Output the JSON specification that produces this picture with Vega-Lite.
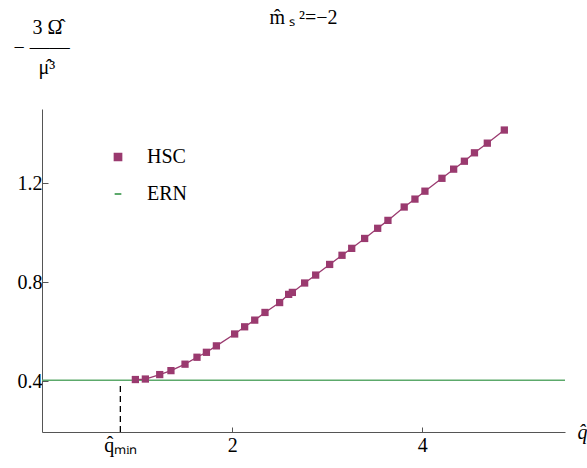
{
  "$schema": "https://vega.github.io/schema/vega-lite/v6.json",
  "width": 523,
  "height": 323,
  "autosize": {"type": "none"},
  "padding": {"left": 42, "top": 109, "right": 22, "bottom": 36},
  "background": "white",
  "title": {
    "text": "m̂\u2009ₛ\u2009²=−2",
    "font": "Liberation Serif",
    "fontSize": 20,
    "fontWeight": "normal",
    "color": "black",
    "anchor": "middle",
    "frame": "group",
    "offset": -11
  },
  "config": {
    "view": {"stroke": null},
    "font": "Liberation Serif",
    "axis": {
      "grid": false,
      "domainColor": "#555555",
      "domainWidth": 1,
      "tickColor": "#555555",
      "tickWidth": 1,
      "labelFont": "Liberation Serif",
      "labelFontSize": 20,
      "labelColor": "black",
      "titleFont": "Liberation Serif",
      "titleFontWeight": "normal",
      "titleColor": "black",
      "titleFontSize": 20
    }
  },
  "datasets": {
    "hsc": [
      {"q": 0.982, "omega": 0.407},
      {"q": 1.087, "omega": 0.409},
      {"q": 1.238, "omega": 0.427},
      {"q": 1.356, "omega": 0.443},
      {"q": 1.504, "omega": 0.469},
      {"q": 1.630, "omega": 0.497},
      {"q": 1.729, "omega": 0.517},
      {"q": 1.834, "omega": 0.543},
      {"q": 2.026, "omega": 0.591},
      {"q": 2.131, "omega": 0.620},
      {"q": 2.237, "omega": 0.647},
      {"q": 2.345, "omega": 0.678},
      {"q": 2.499, "omega": 0.718},
      {"q": 2.594, "omega": 0.751},
      {"q": 2.633, "omega": 0.759},
      {"q": 2.762, "omega": 0.797},
      {"q": 2.878, "omega": 0.829},
      {"q": 3.025, "omega": 0.872},
      {"q": 3.155, "omega": 0.909},
      {"q": 3.257, "omega": 0.937},
      {"q": 3.393, "omega": 0.977},
      {"q": 3.530, "omega": 1.018},
      {"q": 3.638, "omega": 1.050},
      {"q": 3.809, "omega": 1.104},
      {"q": 3.922, "omega": 1.136},
      {"q": 4.027, "omega": 1.168},
      {"q": 4.206, "omega": 1.220},
      {"q": 4.329, "omega": 1.257},
      {"q": 4.442, "omega": 1.289},
      {"q": 4.548, "omega": 1.323},
      {"q": 4.683, "omega": 1.362},
      {"q": 4.862, "omega": 1.415}
    ],
    "ern": [
      {"q": 0, "omega": 0.404},
      {"q": 5.5, "omega": 0.404}
    ],
    "qmin": [
      {"q": 0.824, "lo": 0.195, "hi": 0.39}
    ]
  },
  "layer": [
    {
      "data": {"name": "ern"},
      "mark": {"type": "line", "color": "#5ca96b", "strokeWidth": 1.6},
      "encoding": {
        "x": {
          "field": "q",
          "type": "quantitative",
          "scale": {"domain": [0, 5.5], "nice": false, "zero": false},
          "axis": {
            "values": [0.824, 2, 4],
            "labelExpr": "datum.value < 1 ? 'q̂ₘᵢₙ' : format(datum.value, 'd')",
            "tickSize": -5,
            "tickOpacity": {"condition": {"test": "datum.value < 1", "value": 0}, "value": 1},
            "labelPadding": 8,
            "title": "q̂",
            "titleFontStyle": "italic",
            "titleAlign": "left",
            "titleBaseline": "alphabetic",
            "titleAnchor": "start",
            "titleX": 535,
            "titleY": 6
          }
        },
        "y": {
          "field": "omega",
          "type": "quantitative",
          "scale": {"domain": [0.195, 1.5], "nice": false, "zero": false},
          "axis": {
            "values": [0.4, 0.8, 1.2],
            "labelExpr": "format(datum.value, '.1f')",
            "tickSize": -6,
            "labelPadding": 6,
            "title": ["\u200b\u00a0\u00a0\u00a0\u20093 Ω̂", "−\u00a0——", "\u200b\u00a0\u00a0\u00a0\u00a0\u00a0μ̂³"],
            "titleAngle": 0,
            "titleAlign": "left",
            "titleBaseline": "alphabetic",
            "titleAnchor": "start",
            "titleLineHeight": 20,
            "titleX": -29,
            "titleY": -76
          }
        }
      }
    },
    {
      "data": {"name": "qmin"},
      "mark": {"type": "rule", "color": "black", "strokeWidth": 1.3, "strokeDash": [6, 4]},
      "encoding": {
        "x": {"field": "q", "type": "quantitative"},
        "y": {"field": "lo", "type": "quantitative"},
        "y2": {"field": "hi"}
      }
    },
    {
      "data": {"name": "hsc"},
      "mark": {"type": "line", "color": "#9a3a6f", "strokeWidth": 1.3},
      "encoding": {
        "x": {"field": "q", "type": "quantitative"},
        "y": {"field": "omega", "type": "quantitative"}
      }
    },
    {
      "data": {"name": "hsc"},
      "transform": [{"calculate": "'HSC'", "as": "series"}],
      "mark": {"type": "point", "filled": true, "opacity": 1, "size": 53},
      "encoding": {
        "x": {"field": "q", "type": "quantitative"},
        "y": {"field": "omega", "type": "quantitative"},
        "color": {
          "field": "series",
          "type": "nominal",
          "scale": {"domain": ["HSC", "ERN"], "range": ["#9a3a6f", "#5ca96b"]},
          "legend": {
            "title": null,
            "orient": "none",
            "legendX": 66,
            "legendY": 38,
            "padding": 0,
            "labelFont": "Liberation Serif",
            "labelFontSize": 20,
            "labelColor": "black",
            "labelOffset": 19,
            "rowPadding": 17,
            "symbolSize": 45,
            "symbolStrokeWidth": 2,
            "symbolOpacity": 1,
            "encode": {
              "symbols": {
                "update": {
                  "stroke": {"scale": "color", "field": "value"},
                  "strokeWidth": {"value": 2}
                }
              }
            }
          }
        },
        "shape": {
          "field": "series",
          "type": "nominal",
          "scale": {"domain": ["HSC", "ERN"], "range": ["square", "stroke"]},
          "legend": {
            "title": null,
            "orient": "none",
            "legendX": 66,
            "legendY": 38
          }
        }
      }
    }
  ]
}
